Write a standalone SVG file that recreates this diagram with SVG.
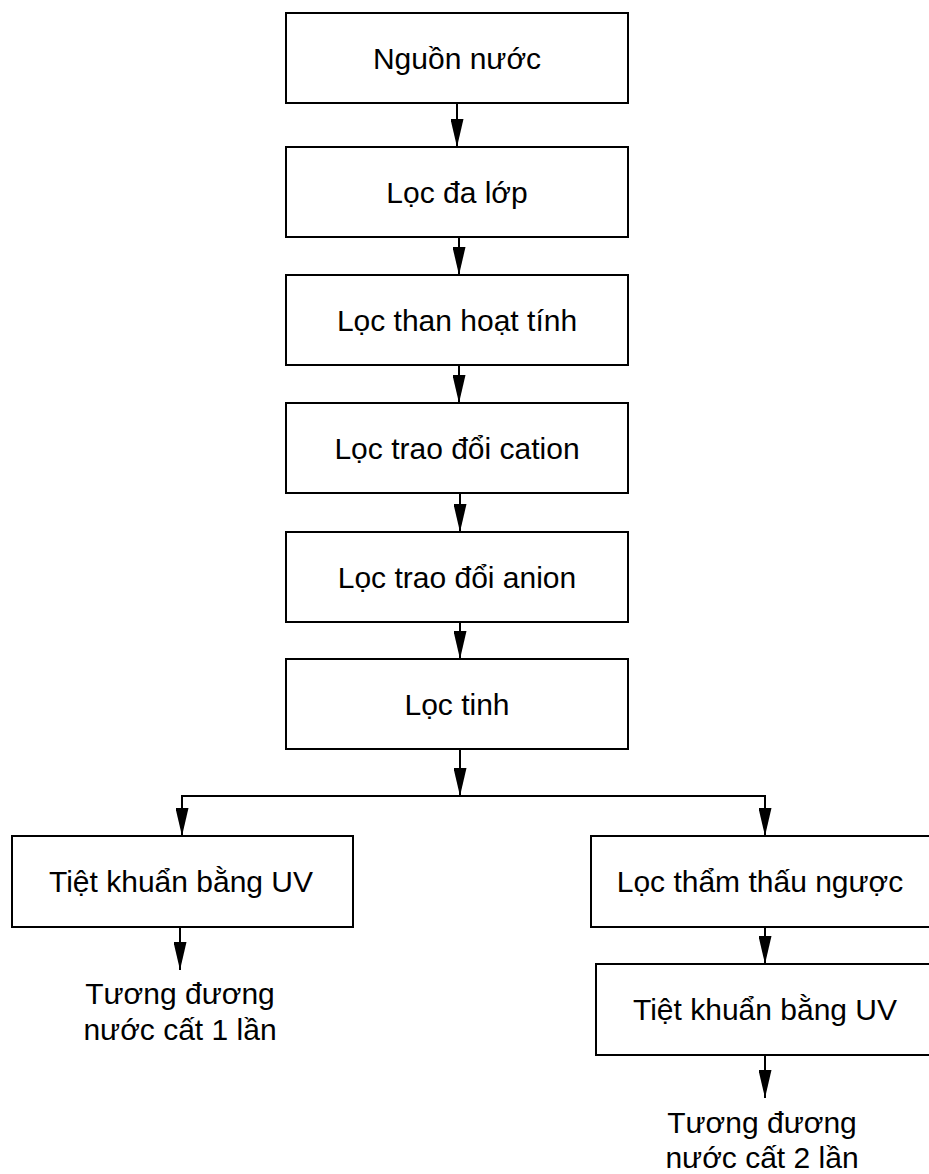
<svg xmlns="http://www.w3.org/2000/svg" width="929" height="1174" viewBox="0 0 929 1174">
<style>
.box{fill:#fff;stroke:#000;stroke-width:2}
.t{font-family:"Liberation Sans",Arial,sans-serif;font-size:30px;fill:#000;text-anchor:middle}
.c{fill:none;stroke:#000;stroke-width:2}
</style>
<defs>
<marker id="ah" markerUnits="userSpaceOnUse" viewBox="0 0 28 13" markerWidth="28" markerHeight="13" refX="28" refY="6.5" orient="auto">
<path d="M0,0 L28,6.5 L0,13 z" fill="#000"/>
</marker>
</defs>
<rect width="929" height="1174" fill="#fff"/>
<g id="connectors">
<line class="c" x1="457" y1="103" x2="457" y2="147" marker-end="url(#ah)"/>
<line class="c" x1="459" y1="237" x2="459" y2="275" marker-end="url(#ah)"/>
<line class="c" x1="459" y1="365" x2="459" y2="403" marker-end="url(#ah)"/>
<line class="c" x1="460" y1="493" x2="460" y2="532" marker-end="url(#ah)"/>
<line class="c" x1="460" y1="622" x2="460" y2="659" marker-end="url(#ah)"/>
<line class="c" x1="460" y1="749" x2="460" y2="796" marker-end="url(#ah)"/>
<path class="c" d="M182,836 L182,796 L765,796 L765,836"/>
<line class="c" x1="182" y1="800" x2="182" y2="836" marker-end="url(#ah)"/>
<line class="c" x1="765" y1="800" x2="765" y2="836" marker-end="url(#ah)"/>
<line class="c" x1="180" y1="927" x2="180" y2="970" marker-end="url(#ah)"/>
<line class="c" x1="765" y1="927" x2="765" y2="964" marker-end="url(#ah)"/>
<line class="c" x1="765" y1="1055" x2="765" y2="1098" marker-end="url(#ah)"/>
</g>
<g id="n1"><rect class="box" x="286" y="13" width="342" height="90"/><text class="t" x="457" y="69">Nguồn nước</text></g>
<g id="n2"><rect class="box" x="286" y="147" width="342" height="90"/><text class="t" x="457" y="203">Lọc đa lớp</text></g>
<g id="n3"><rect class="box" x="286" y="275" width="342" height="90"/><text class="t" x="457" y="331">Lọc than hoạt tính</text></g>
<g id="n4"><rect class="box" x="286" y="403" width="342" height="90"/><text class="t" x="457" y="459">Lọc trao đổi cation</text></g>
<g id="n5"><rect class="box" x="286" y="532" width="342" height="90"/><text class="t" x="457" y="588">Lọc trao đổi anion</text></g>
<g id="n6"><rect class="box" x="286" y="659" width="342" height="90"/><text class="t" x="457" y="715">Lọc tinh</text></g>
<g id="n7"><rect class="box" x="12" y="836" width="341" height="91"/><text class="t" x="181" y="892">Tiệt khuẩn bằng UV</text></g>
<g id="n8"><text class="t" x="180" y="1004">Tương đương</text><text class="t" x="180" y="1040">nước cất 1 lần</text></g>
<g id="n9"><rect class="box" x="591" y="836" width="342" height="91"/><text class="t" x="760" y="892">Lọc thẩm thấu ngược</text></g>
<g id="n10"><rect class="box" x="596" y="964" width="342" height="91"/><text class="t" x="765" y="1020">Tiệt khuẩn bằng UV</text></g>
<g id="n11"><text class="t" x="762" y="1133">Tương đương</text><text class="t" x="762" y="1168">nước cất 2 lần</text></g>
</svg>
